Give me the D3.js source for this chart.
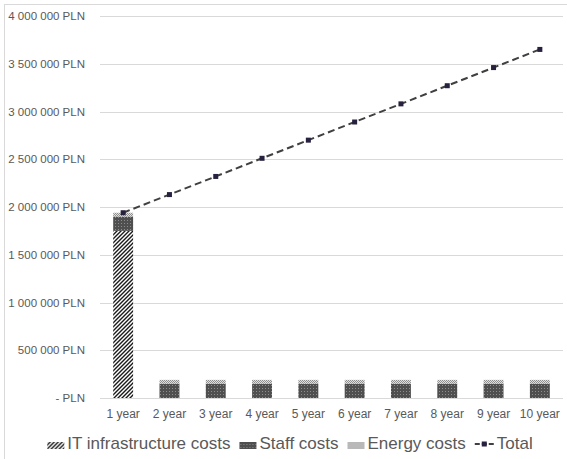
<!DOCTYPE html>
<html><head><meta charset="utf-8">
<script src="https://cdn.jsdelivr.net/npm/d3@7"></script>
<style>html,body{margin:0;padding:0;background:#fff;} svg{display:block;}</style>
</head><body>
<svg id="c" width="567" height="459"></svg>
<script>
const categories = ["1 year","2 year","3 year","4 year","5 year","6 year","7 year","8 year","9 year","10 year"];
const itCosts     = [1750000,0,0,0,0,0,0,0,0,0];
const staffCosts  = [150000,150000,150000,150000,150000,150000,150000,150000,150000,150000];
const energyCosts = [40000,40000,40000,40000,40000,40000,40000,40000,40000,40000];
const totalCosts  = [1940000,2130000,2320000,2510000,2700000,2890000,3080000,3270000,3460000,3650000];
const yTicks = [0,500000,1000000,1500000,2000000,2500000,3000000,3500000,4000000];
const seriesNames = ["IT infrastructure costs","Staff costs","Energy costs","Total"];

(function(){
const svg = d3.select("#c");
const FONT = "'Liberation Sans', Arial, sans-serif";
const pl = 100, pr = 563, pt = 16, pb = 398;

const defs = svg.append("defs");
const pIT = defs.append("pattern").attr("id","pIT").attr("patternUnits","userSpaceOnUse").attr("width",4).attr("height",4);
pIT.append("rect").attr("width",4).attr("height",4).attr("fill","#fff");
pIT.append("path").attr("d","M-1,1 l2,-2 M0,4 l4,-4 M3,5 l2,-2").attr("stroke","#1a1a1a").attr("stroke-width",1.4);
const pSt = defs.append("pattern").attr("id","pSt").attr("patternUnits","userSpaceOnUse").attr("width",3).attr("height",3);
pSt.append("rect").attr("width",3).attr("height",3).attr("fill","#4f4f4f");
pSt.append("rect").attr("x",1).attr("y",1).attr("width",1).attr("height",1).attr("fill","#8c8c8c");
const pEn = defs.append("pattern").attr("id","pEn").attr("patternUnits","userSpaceOnUse").attr("width",2).attr("height",2);
pEn.append("rect").attr("width",2).attr("height",2).attr("fill","#e2e2e2");
pEn.append("rect").attr("x",0).attr("y",0).attr("width",1).attr("height",1).attr("fill","#8f8f8f");
pEn.append("rect").attr("x",1).attr("y",1).attr("width",1).attr("height",1).attr("fill","#8f8f8f");
const fills = ["url(#pIT)","url(#pSt)","url(#pEn)"];

svg.append("rect").attr("x",4.5).attr("y",4.5).attr("width",700).attr("height",700)
  .attr("fill","#fff").attr("stroke","#d9d9d9");

const x = d3.scaleBand().domain(categories).range([pl,pr]).paddingInner(0.57).paddingOuter(0.285);
const y = d3.scaleLinear().domain([0,4000000]).range([pb,pt]);

const fmt = d => d === 0 ? "- PLN" : d3.format(",")(d).replace(/,/g," ") + " PLN";

svg.append("g").selectAll("line").data(yTicks).join("line")
  .attr("x1",pl).attr("x2",pr)
  .attr("y1",d=>Math.round(y(d))+0.5).attr("y2",d=>Math.round(y(d))+0.5)
  .attr("stroke","#d9d9d9").attr("stroke-width",1);

const yAxis = svg.append("g").attr("transform",`translate(${pl},0)`)
  .call(d3.axisLeft(y).tickValues(yTicks).tickFormat(fmt).tickSize(0).tickPadding(15));
yAxis.select(".domain").remove();
yAxis.selectAll("text").attr("font-family",FONT).attr("font-size","11.5px").attr("fill","#595959");

const xAxis = svg.append("g").attr("transform",`translate(0,${pb})`)
  .call(d3.axisBottom(x).tickSize(0).tickPadding(11));
xAxis.select(".domain").remove();
xAxis.selectAll("text").attr("font-family",FONT).attr("font-size","12px").attr("fill","#595959");

const rows = categories.map((c,i)=>({cat:c, it:itCosts[i], staff:staffCosts[i], energy:energyCosts[i]}));
const stack = d3.stack().keys(["it","staff","energy"])(rows);
svg.append("g").selectAll("g").data(stack).join("g")
  .attr("fill",(d,i)=>fills[i])
  .selectAll("rect").data(d=>d).join("rect")
  .attr("x",d=>x(d.data.cat)).attr("width",x.bandwidth())
  .attr("y",d=>y(d[1])).attr("height",d=>Math.max(0,y(d[0])-y(d[1])));

const cx = c => x(c) + x.bandwidth()/2;
const line = d3.line().x((d,i)=>cx(categories[i])).y(d=>y(d));
svg.append("path").datum(totalCosts).attr("d",line)
  .attr("fill","none").attr("stroke","#404040").attr("stroke-width",2).attr("stroke-dasharray","7,4");
svg.append("g").selectAll("rect").data(totalCosts).join("rect")
  .attr("x",(d,i)=>cx(categories[i])-2.5).attr("y",d=>y(d)-2.5)
  .attr("width",5).attr("height",5).attr("fill","#27213f");

const lg = svg.append("g");
const legFont = 17;
let lx = 0;
seriesNames.forEach((name,i)=>{
  const g = lg.append("g").attr("transform",`translate(${lx},0)`);
  const sw = i===3 ? 19 : 17;
  if (i<3) {
    g.append("rect").attr("x",0).attr("y",-7).attr("width",sw).attr("height",7).attr("fill",fills[i]);
  } else {
    g.append("line").attr("x1",0).attr("x2",sw).attr("y1",-5).attr("y2",-5)
      .attr("stroke","#404040").attr("stroke-width",2).attr("stroke-dasharray","5,2");
    g.append("rect").attr("x",sw/2-2.5).attr("y",-7.5).attr("width",5).attr("height",5).attr("fill","#27213f");
  }
  const t = g.append("text").attr("x",sw+3).attr("y",0).attr("font-family",FONT)
    .attr("font-size",legFont+"px").attr("fill","#595959").text(name);
  lx += sw + 3 + t.node().getComputedTextLength() + 9;
});
const lw = lx - 9;
lg.attr("transform",`translate(${290 - lw/2},449)`);
})();
</script>
</body></html>
